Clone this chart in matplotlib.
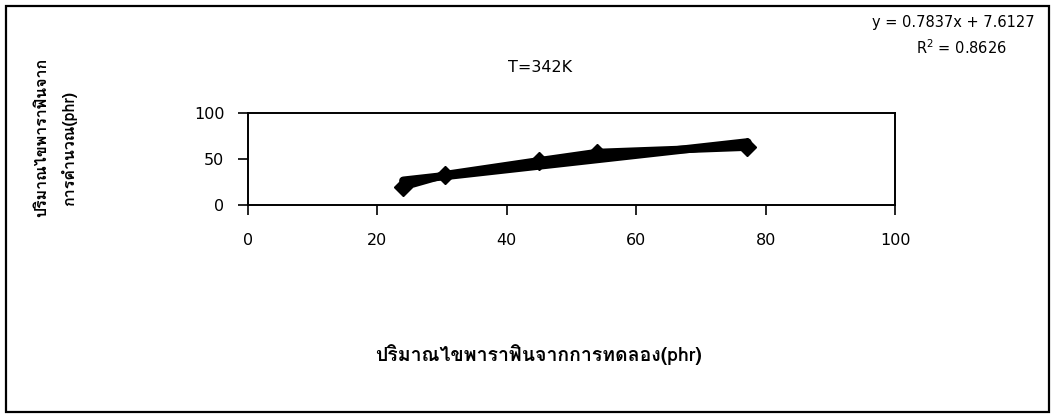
import matplotlib
matplotlib.use("Agg")
import matplotlib.pyplot as plt
from matplotlib import font_manager
from matplotlib.ft2font import FT2Font
from matplotlib.patches import Rectangle
import numpy as np

# Measured vs. calculated paraffin wax content at T = 342 K
x_exp = [24.0, 30.5, 45.0, 54.0, 77.2]
y_calc = [20.0, 33.0, 48.0, 57.0, 63.0]
slope = 0.7837
intercept = 7.6127
r_squared = 0.8626
x_ticks = [0, 20, 40, 60, 80, 100]
y_ticks = [0, 50, 100]

title_text = "T=342K"
xlabel_text = "ปริมาณไขพาราฟินจากการทดลอง(phr)"
ylabel_line1 = "ปริมาณไขพาราฟินจาก"
ylabel_line2 = "การคำนวณ(phr)"


def thai_font():
    """Return the name of an installed family that has Thai glyphs."""
    seen = set()
    for f in font_manager.fontManager.ttflist:
        if f.fname in seen:
            continue
        seen.add(f.fname)
        try:
            cmap = FT2Font(f.fname).get_charmap()
        except Exception:
            continue
        if 0x0E1B in cmap and 0x0E32 in cmap:
            return f.name
    return "DejaVu Sans"


thai = thai_font()
plt.rcParams["font.family"] = ["DejaVu Sans"]

fig = plt.figure(figsize=(10.55, 4.18), dpi=100)
fig.patch.set_facecolor("white")

W, H = 1055, 418
ax = fig.add_axes([248 / W, 1 - 205 / H, (895 - 248) / W, (205 - 113) / H])

# data series and its linear trendline
ax.plot(x_exp, y_calc, color="black", lw=5.5, marker="D", ms=9,
        solid_joinstyle="round", zorder=3)
xt = np.array([min(x_exp), max(x_exp)])
ax.plot(xt, slope * xt + intercept, color="black", lw=6,
        solid_capstyle="round", zorder=2)

ax.set_xlim(0, 100)
ax.set_ylim(0, 100)
ax.set_xticks(x_ticks)
ax.set_yticks(y_ticks)
ax.tick_params(axis="x", direction="out", length=7, width=1.2,
               labelsize=11.5, pad=13)
ax.tick_params(axis="y", direction="out", length=7, width=1.2,
               labelsize=11.5, pad=10)
for s in ax.spines.values():
    s.set_linewidth(1.4)
    s.set_color("black")

fig.text(540 / W, 1 - 68 / H, title_text, ha="center", va="center",
         fontsize=11.5)
fig.text(953 / W, 1 - 22 / H, f"y = {slope}x + {intercept}",
         ha="center", va="center", fontsize=10.5)
fig.text(961 / W, 1 - 48 / H, f"R$^2$ = {r_squared}",
         ha="center", va="center", fontsize=10.5)

fig.text(538 / W, 1 - 355 / H, xlabel_text, ha="center", va="center",
         fontsize=14, fontweight="bold", family=[thai, "DejaVu Sans"])
fig.text(42 / W, 1 - 137 / H, ylabel_line1, ha="center", va="center",
         rotation=90, fontsize=11.5, fontweight="bold",
         family=[thai, "DejaVu Sans"])
fig.text(69 / W, 1 - 148 / H, ylabel_line2, ha="center", va="center",
         rotation=90, fontsize=11.5, fontweight="bold",
         family=[thai, "DejaVu Sans"])

# frame around the whole chart
fig.patches.append(Rectangle((6 / W, 6 / H), 1 - 12 / W, 1 - 12 / H,
                             transform=fig.transFigure, fill=False,
                             lw=1.6, edgecolor="black"))

fig.savefig("out.png", dpi=100, facecolor="white")
